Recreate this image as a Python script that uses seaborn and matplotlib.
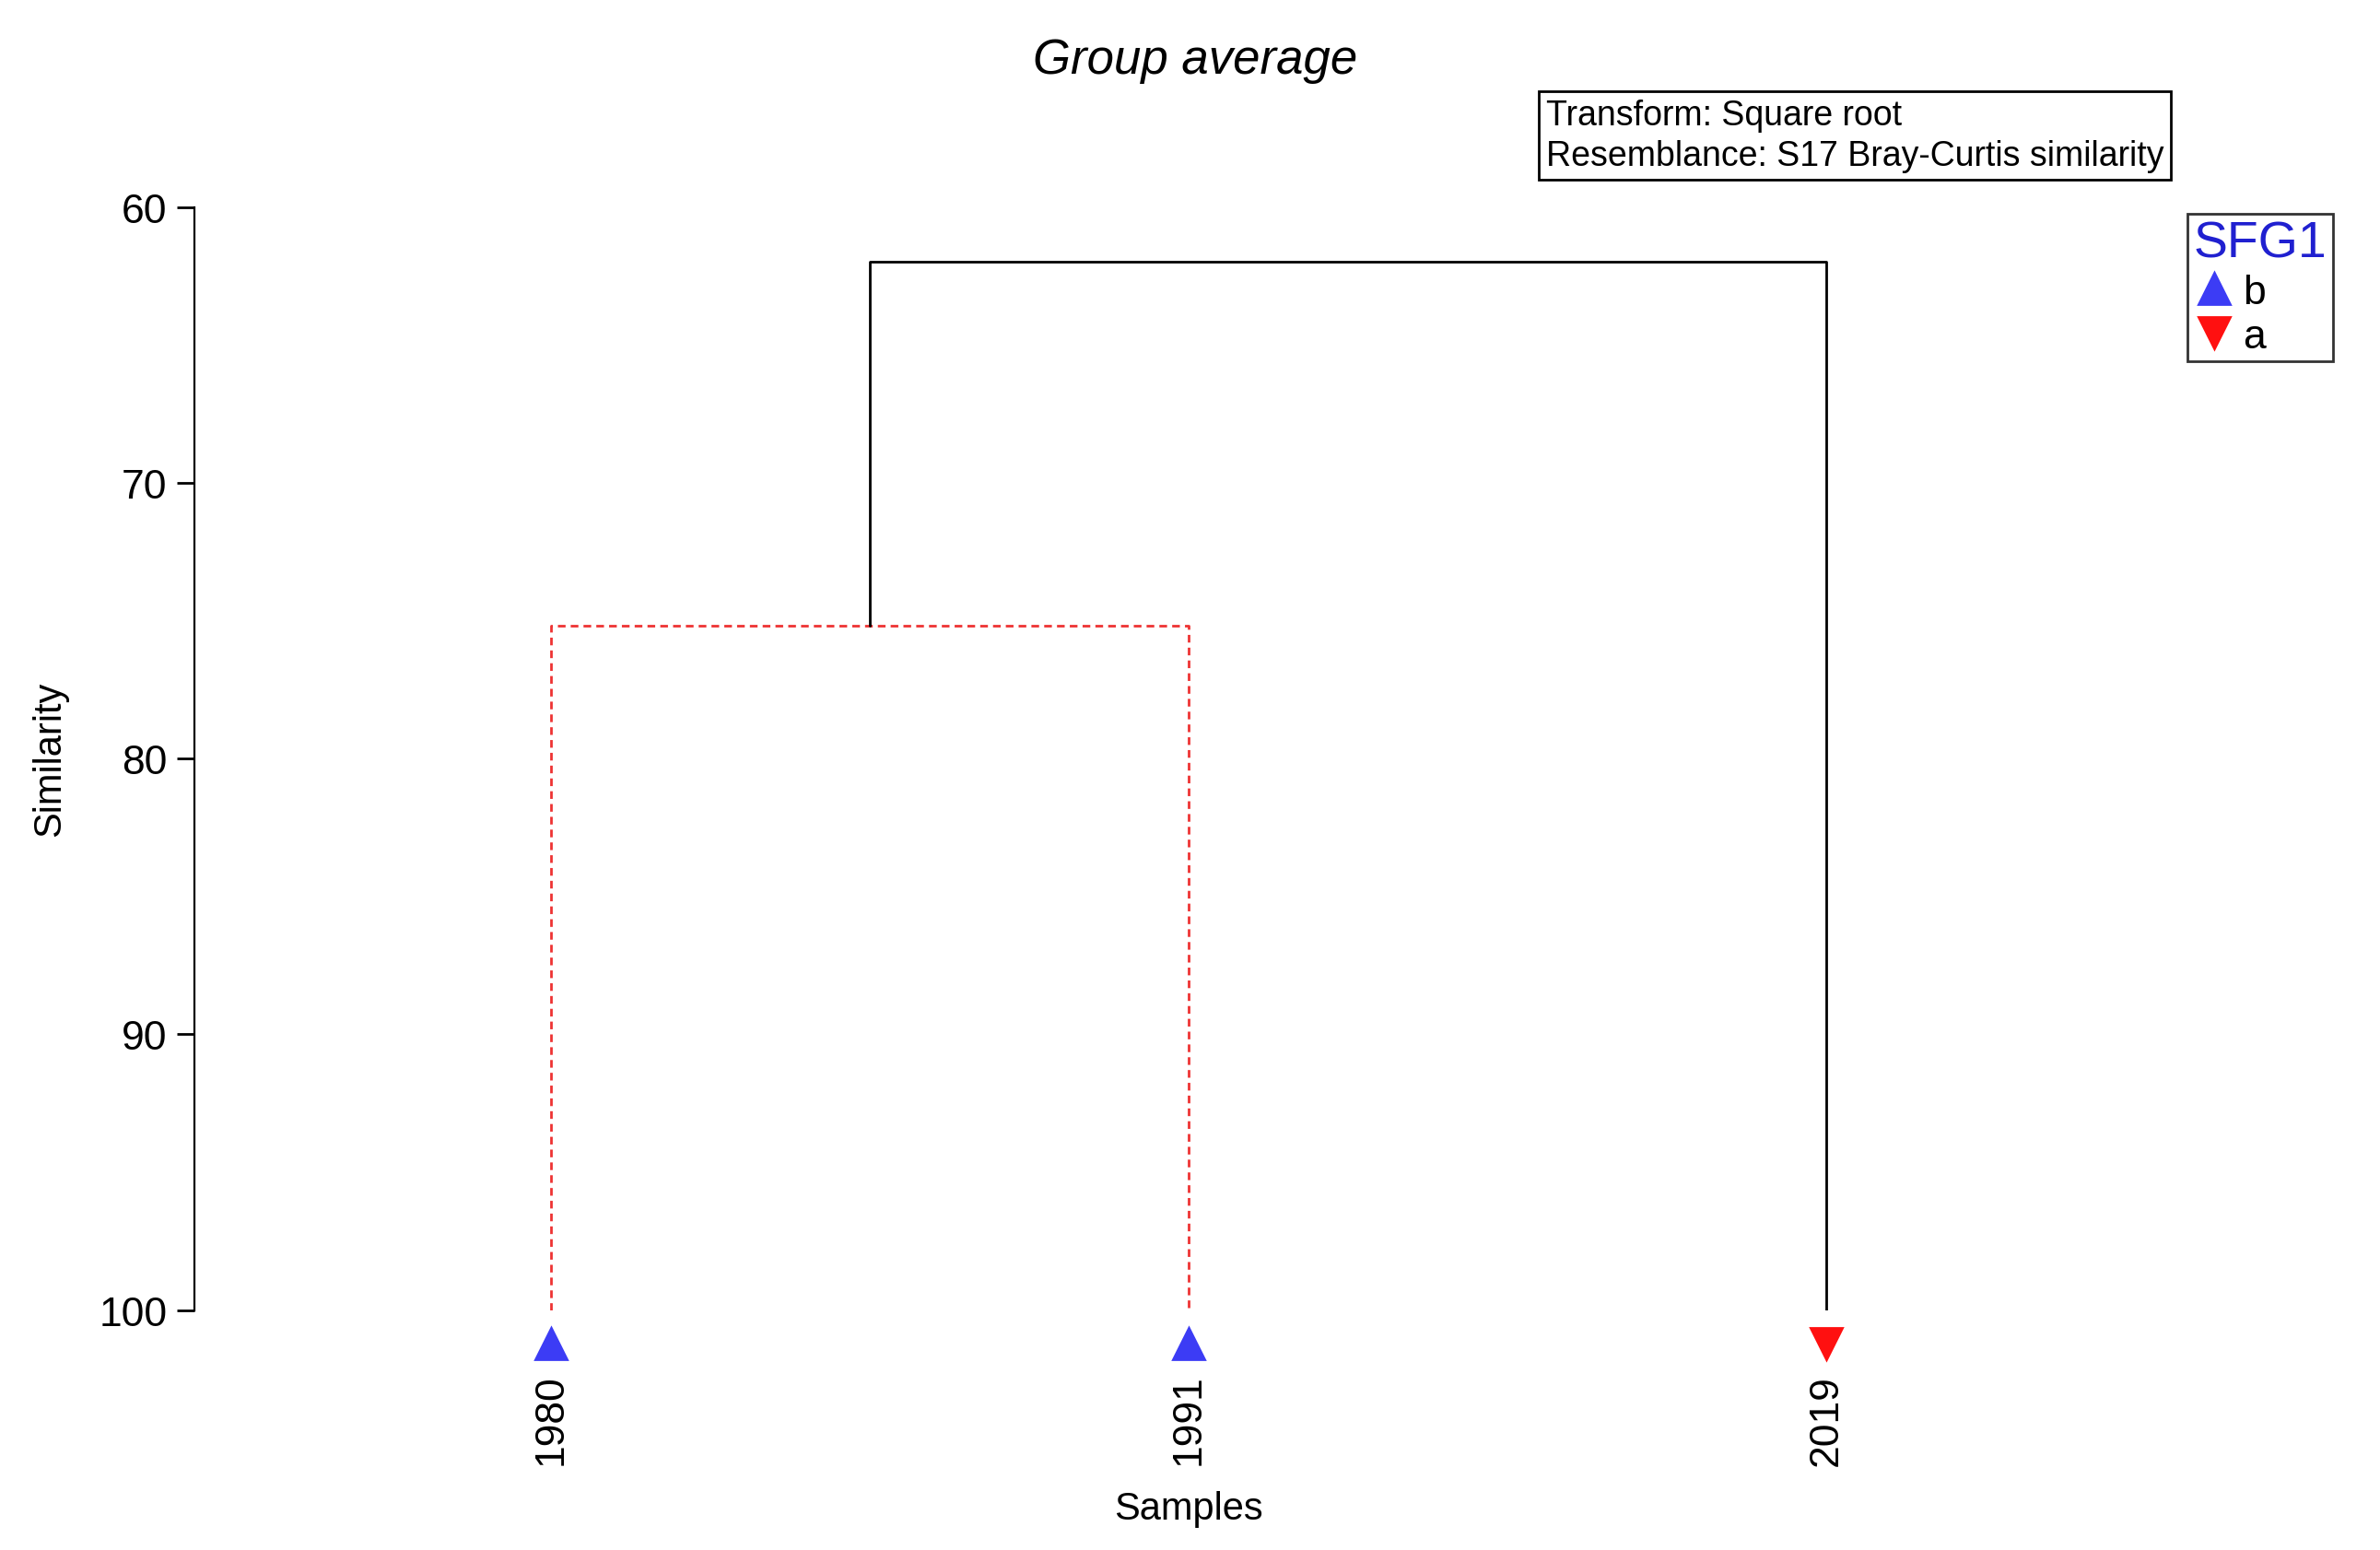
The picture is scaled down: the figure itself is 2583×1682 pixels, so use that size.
import matplotlib
matplotlib.use("Agg")
import matplotlib.pyplot as plt
import seaborn as sns
from matplotlib.lines import Line2D

sns.set_style("white")
plt.rcParams['font.family'] = ['Liberation Sans', 'DejaVu Sans']
plt.rcParams['text.color'] = 'black'
plt.rcParams['axes.labelcolor'] = 'black'
plt.rcParams['ytick.color'] = 'black'

samples = ["1980", "1991", "2019"]
groups = ["b", "b", "a"]
leaf_pos = [1, 2, 3]
merge1_sim = 75.2   # 1980 + 1991
merge2_sim = 62.0   # (1980,1991) + 2019
yticks = [60, 70, 80, 90, 100]

fig = plt.figure(figsize=(12.915, 8.415), dpi=200)
ax = fig.add_axes([0.0816, 0.1546, 0.8784, 0.7114])

ax.plot([leaf_pos[0], leaf_pos[0], leaf_pos[1], leaf_pos[1]],
        [100, merge1_sim, merge1_sim, 100], color="#ee3333", ls=(0, (3, 2)), lw=1.0)
mid = (leaf_pos[0] + leaf_pos[1]) / 2
ax.plot([mid, mid, leaf_pos[2], leaf_pos[2]],
        [merge1_sim, merge2_sim, merge2_sim, 100], color="black", lw=1.0)

ax.set_xlim(0.4405, 3.719)
ax.set_ylim(100, 60)
ax.set_yticks(yticks)
ax.set_xticks([])
for s in ["top", "right", "bottom"]:
    ax.spines[s].set_visible(False)
ax.spines["left"].set_color("black")
ax.tick_params(axis="y", direction="out", length=7, width=1, labelsize=16, left=True, color="black")
ax.set_ylabel("Similarity", fontsize=15, labelpad=12)

styles = {"b": ("^", "#3c3cf5"), "a": ("v", "#ff1010")}
for x, lab, g in zip(leaf_pos, samples, groups):
    m, c = styles[g]
    ax.plot([x], [101.2], marker=m, color=c, ms=12, clip_on=False, ls="none")
    ax.text(x, 102.3, lab, rotation=90, ha="center", va="top", fontsize=16, clip_on=False)

fig.text(0.502, 0.961, "Group average", ha="center", va="center", fontsize=19, style="italic")
fig.text(0.4995, 0.027, "Samples", ha="center", va="center", fontsize=15)

fig.text(0.6495, 0.912, "Transform: Square root\nResemblance: S17 Bray-Curtis similarity",
         ha="left", va="center", fontsize=13.5, linespacing=1.3,
         bbox=dict(boxstyle="square,pad=0.2", fc="white", ec="black", lw=1))

handles = [Line2D([], [], marker="^", color="#3c3cf5", ls="none", ms=12),
           Line2D([], [], marker="v", color="#ff1010", ls="none", ms=12)]
leg = fig.legend(handles, ["b", "a"], title="SFG1", loc="upper right",
                 bbox_to_anchor=(0.989, 0.875), fontsize=16, title_fontsize=20,
                 frameon=True, fancybox=False, edgecolor="black", handletextpad=0.2,
                 borderpad=0.15, handlelength=1.0, labelspacing=0.15)
leg._legend_box.align = "left"
leg.get_title().set_color("#2020d0")
leg.get_frame().set_linewidth(1)

fig.savefig("out.png", dpi=200)
